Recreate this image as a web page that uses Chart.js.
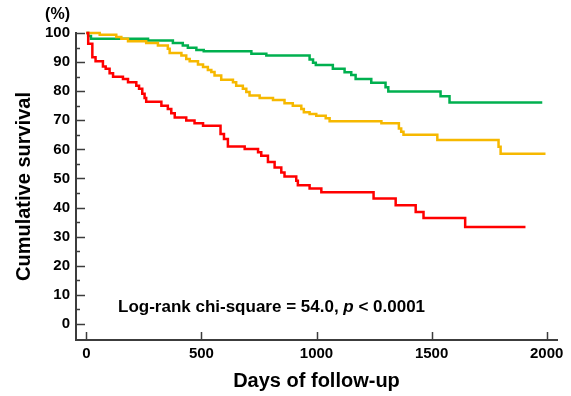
<!DOCTYPE html>
<html>
<head>
<meta charset="utf-8">
<script src="https://cdn.jsdelivr.net/npm/chart.js@4"></script>
<style>
  body { margin: 0; background: #fff; }
  #wrap { width: 571px; height: 396px; }
</style>
</head>
<body>
<div id="wrap"><canvas id="myChart"></canvas></div>
<script>
// Kaplan-Meier steps: day at which survival drops, survival (%) after the drop
const redDays = [0, 8, 26, 40, 72, 84, 101, 116, 159, 181, 217, 229, 243, 253, 260, 326, 354, 369, 384, 434, 470, 507, 583, 598, 615, 688, 746, 760, 789, 818, 847, 861, 912, 919, 970, 1021, 1248, 1344, 1431, 1465, 1646, 1908];
const redSurv = [100, 96.3, 91.7, 90.3, 88.5, 87.7, 86.2, 85.0, 84.2, 83.1, 81.9, 80.8, 79.1, 77.7, 76.4, 75.0, 73.9, 72.4, 71.0, 69.9, 69.0, 68.1, 65.3, 63.6, 61.0, 60.1, 59.0, 57.8, 55.7, 53.8, 52.1, 50.7, 49.2, 47.7, 46.6, 45.3, 43.1, 40.8, 38.5, 36.4, 33.3, 33.3];

const yellowDays = [0, 58, 130, 152, 181, 260, 311, 354, 362, 413, 434, 449, 485, 507, 528, 543, 557, 586, 637, 651, 680, 695, 709, 753, 811, 861, 897, 934, 945, 970, 999, 1040, 1057, 1282, 1358, 1368, 1378, 1525, 1791, 1800, 1995];
const yellowSurv = [100, 99.4, 98.6, 98.0, 97.2, 96.6, 95.7, 94.6, 93.1, 92.3, 91.1, 90.3, 89.2, 88.3, 87.3, 86.6, 85.4, 83.9, 83.1, 81.9, 80.8, 79.7, 78.5, 77.7, 77.0, 75.9, 75.0, 73.9, 72.8, 72.2, 71.6, 70.7, 69.7, 69.0, 67.2, 66.1, 65.0, 63.2, 60.9, 58.5, 58.5];

const greenDays = [0, 8, 20, 268, 376, 419, 441, 478, 510, 717, 782, 970, 985, 997, 1071, 1122, 1151, 1170, 1238, 1300, 1312, 1539, 1578, 1981];
const greenSurv = [100, 99.0, 98.0, 97.4, 96.6, 95.7, 94.9, 94.2, 93.7, 92.9, 92.3, 90.9, 89.8, 89.0, 87.7, 86.5, 85.6, 84.2, 82.9, 81.4, 79.9, 78.3, 76.1, 76.1];

const xTicks = [0, 500, 1000, 1500, 2000];
const yTicks = [0, 5, 10, 15, 20, 25, 30, 35, 40, 45, 50, 55, 60, 65, 70, 75, 80, 85, 90, 95, 100];

function toPoints(days, surv) {
  return days.map((d, i) => ({ x: d, y: surv[i] }));
}

const axisColor = '#3c3c3c';
const fontFamily = '"Liberation Sans", Arial, sans-serif';

// short tick marks pointing into the plot, like the original figure
const innerTicks = {
  id: 'innerTicks',
  afterDatasetsDraw(chart) {
    const ctx = chart.ctx;
    const xs = chart.scales.x, ys = chart.scales.y;
    const area = chart.chartArea;
    ctx.save();
    ctx.strokeStyle = axisColor;
    ctx.lineWidth = 1.5;
    ctx.beginPath();
    yTicks.forEach(v => {
      const py = Math.round(ys.getPixelForValue(v)) + 0.5;
      const len = v % 10 === 0 ? 9 : 4;
      ctx.moveTo(area.left, py);
      ctx.lineTo(area.left + len, py);
    });
    xTicks.forEach(v => {
      const px = Math.round(xs.getPixelForValue(v)) + 0.5;
      ctx.moveTo(px, area.bottom);
      ctx.lineTo(px, area.bottom - 8);
    });
    ctx.stroke();

    // "(%)" over the y labels
    ctx.fillStyle = '#000';
    ctx.font = 'bold 16px ' + fontFamily;
    ctx.textAlign = 'right';
    ctx.textBaseline = 'middle';
    ctx.fillText('(%)', area.left - 6, 15);

    // log-rank annotation, p in italics
    const tx = 118, ty = 312;
    ctx.textAlign = 'left';
    ctx.textBaseline = 'alphabetic';
    const part1 = 'Log-rank chi-square = 54.0, ';
    ctx.font = 'bold 17px ' + fontFamily;
    ctx.fillText(part1, tx, ty);
    let w = ctx.measureText(part1).width;
    ctx.font = 'italic bold 17px ' + fontFamily;
    ctx.fillText('p', tx + w, ty);
    w += ctx.measureText('p').width;
    ctx.font = 'bold 17px ' + fontFamily;
    ctx.fillText(' < 0.0001', tx + w, ty);
    ctx.restore();
  }
};

const data = {
  datasets: [
    { label: 'red', data: toPoints(redDays, redSurv), borderColor: '#ff0000' },
    { label: 'yellow', data: toPoints(yellowDays, yellowSurv), borderColor: '#f6b800' },
    { label: 'green', data: toPoints(greenDays, greenSurv), borderColor: '#00b04f' }
  ].map(ds => Object.assign(ds, {
    stepped: true,
    fill: false,
    borderWidth: 2.5,
    pointRadius: 0,
    clip: false
  }))
};

const config = {
  type: 'line',
  data,
  options: {
    responsive: true,
    maintainAspectRatio: false,
    animation: false,
    layout: { padding: { top: 33, right: 14, left: 0, bottom: 0 } },
    plugins: { legend: { display: false }, tooltip: { enabled: false } },
    scales: {
      x: {
        type: 'linear',
        min: -45,
        max: 2045,
        afterBuildTicks: s => { s.ticks = xTicks.map(v => ({ value: v })); },
        afterFit: s => { s.height = 56; },
        grid: { display: false, drawTicks: false },
        border: { display: true, color: axisColor, width: 2 },
        ticks: {
          padding: 5,
          color: '#000',
          maxRotation: 0,
          callback: v => String(v),
          font: { family: fontFamily, size: 15, weight: 'bold' }
        },
        title: {
          display: true,
          text: 'Days of follow-up',
          color: '#000',
          padding: { top: 0, bottom: 3 },
          font: { family: fontFamily, size: 20, weight: 'bold' }
        }
      },
      y: {
        type: 'linear',
        min: -5.5,
        max: 100,
        afterBuildTicks: s => { s.ticks = yTicks.map(v => ({ value: v })); },
        afterFit: s => { s.width = 76; },
        grid: { display: false, drawTicks: false },
        border: { display: true, color: axisColor, width: 2 },
        ticks: {
          padding: 6,
          color: '#000',
          callback: v => (v % 10 === 0 ? String(v) : ''),
          font: { family: fontFamily, size: 15, weight: 'bold' }
        },
        title: {
          display: true,
          text: 'Cumulative survival',
          color: '#000',
          padding: { top: 12, bottom: 0 },
          font: { family: fontFamily, size: 20, weight: 'bold' }
        }
      }
    }
  },
  plugins: [innerTicks]
};

var myChart = new Chart(document.getElementById('myChart').getContext('2d'), config);
</script>
</body>
</html>
